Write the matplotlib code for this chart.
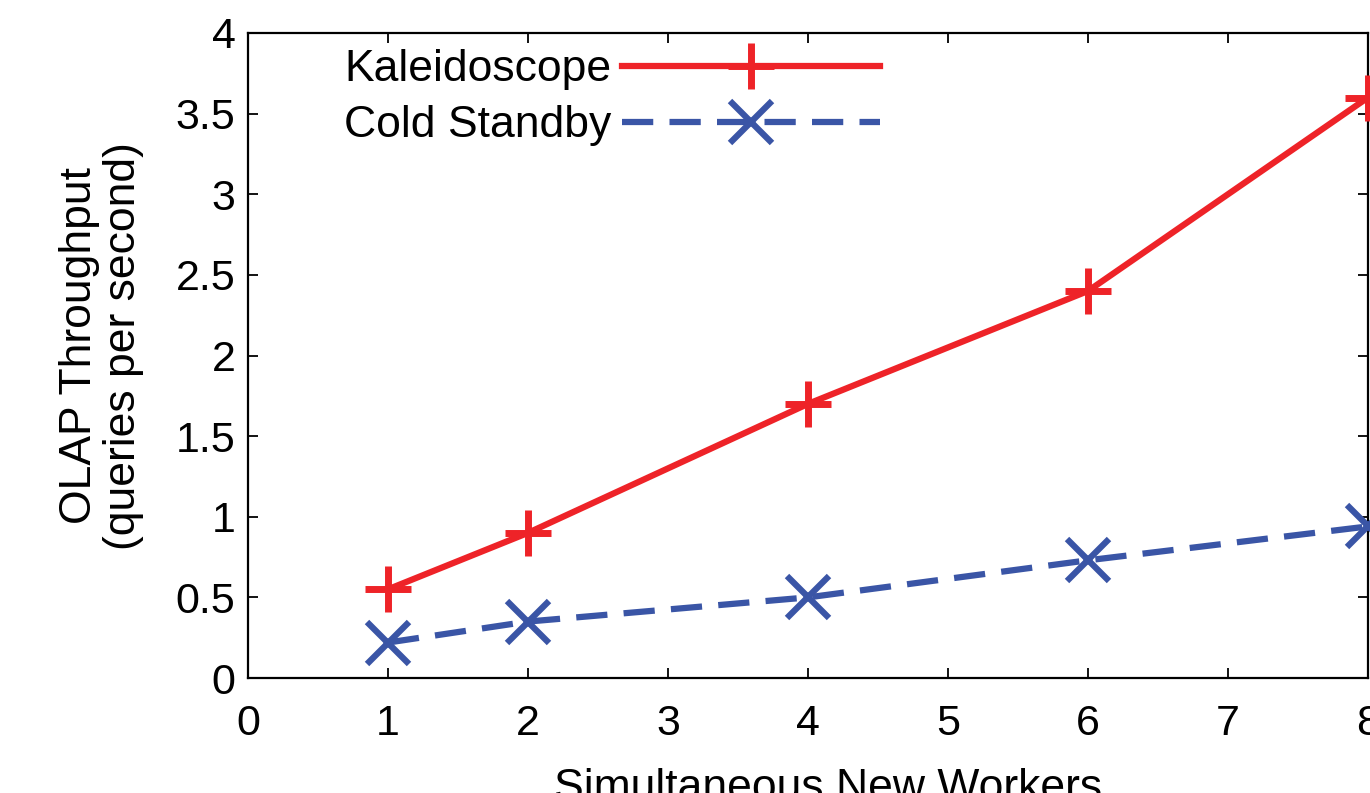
import matplotlib
matplotlib.use("Agg")
import matplotlib.pyplot as plt

workers = [1, 2, 4, 6, 8]
kaleidoscope = [0.55, 0.9, 1.7, 2.4, 3.6]
cold_standby = [0.22, 0.35, 0.5, 0.73, 0.94]
x_ticks = [0, 1, 2, 3, 4, 5, 6, 7, 8]
y_ticks = [0, 0.5, 1, 1.5, 2, 2.5, 3, 3.5, 4]
y_tick_labels = ["0", "0.5", "1", "1.5", "2", "2.5", "3", "3.5", "4"]

plt.rcParams['font.family'] = ['Liberation Sans', 'DejaVu Sans']

RED = "#ee2328"
BLUE = "#3a55a6"

fig = plt.figure(figsize=(13.7, 7.93), dpi=100)
ax = fig.add_axes([248/1370, 1-678/793, 1120/1370, 645/793])

ax.plot(workers, kaleidoscope, color=RED, lw=4.5, marker='+', ms=33, mew=5,
        label="Kaleidoscope", clip_on=False, zorder=3)
ax.plot(workers, cold_standby, color=BLUE, lw=4.5, dashes=(5.0, 2.6), marker='x',
        ms=30, mew=4.5, label="Cold Standby", clip_on=False, zorder=3)

ax.set_xlim(0, 8)
ax.set_ylim(0, 4)
ax.set_xticks(x_ticks)
ax.set_yticks(y_ticks)
ax.set_yticklabels(y_tick_labels)
ax.tick_params(direction='in', length=7, width=1.3, top=True, right=True,
               labelsize=31, colors='black')
ax.tick_params(axis='x', pad=19)
ax.tick_params(axis='y', pad=9)
for s in ax.spines.values():
    s.set_linewidth(1.6)

ax.set_ylabel("OLAP Throughput\n(queries per second)", fontsize=32, linespacing=1.1)
ax.yaxis.set_label_coords(-0.093, 0.515)
ax.set_xlabel("Simultaneous New Workers", fontsize=32)
ax.xaxis.set_label_coords(0.518, -0.14)

ax.legend(loc='upper left', bbox_to_anchor=(0.086, 0.975), frameon=False,
          fontsize=32, markerfirst=False, handlelength=5.8, handletextpad=0.23,
          numpoints=1, borderpad=0, borderaxespad=0, labelspacing=0.34)

fig.savefig("out.png", dpi=100)
